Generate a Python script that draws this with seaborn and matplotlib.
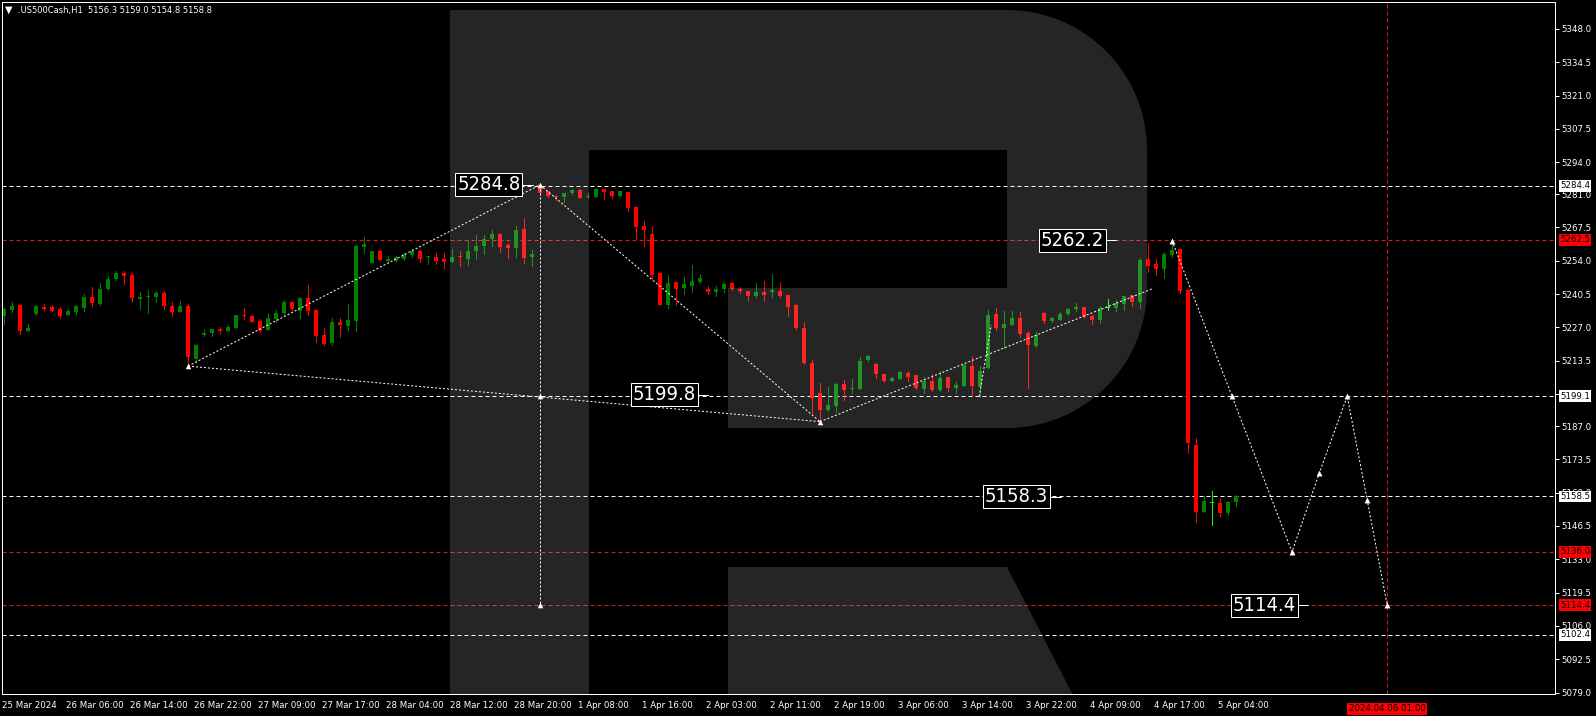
import numpy as np
import pandas as pd
import seaborn as sns
import matplotlib.pyplot as plt
import matplotlib.transforms as mtransforms
from matplotlib.patches import Polygon

# US500Cash H1 candles (bar index = position)
opens = [5231.7, 5234.0, 5236.0, 5225.6, 5232.4, 5235.1, 5235.2, 5234.4, 5232.0, 5233.2,
         5234.8, 5239.3, 5236.5, 5242.5, 5246.6, 5249.0, 5248.2, 5238.5, 5239.4, 5239.3,
         5240.9, 5235.6, 5233.2, 5235.6, 5214.2, 5223.9, 5224.7, 5226.2, 5225.5, 5226.7,
         5232.0, 5231.6, 5229.6, 5225.9, 5230.5, 5232.7, 5237.2, 5233.8, 5238.9, 5234.1,
         5224.0, 5220.6, 5229.2, 5227.5, 5229.6, 5259.6, 5253.1, 5258.1, 5254.1, 5254.1,
         5254.7, 5256.2, 5258.0, 5255.6, 5255.5, 5254.7, 5253.5, 5255.6, 5254.7, 5258.0,
         5260.0, 5262.7, 5264.9, 5260.4, 5259.3, 5266.9, 5255.5, 5284.6, 5282.2, 5280.4,
         5280.0, 5281.3, 5282.8, 5280.0, 5280.0, 5283.0, 5282.3, 5280.4, 5281.7, 5275.9,
         5268.1, 5264.9, 5249.2, 5236.2, 5245.4, 5243.0, 5243.8, 5245.4, 5242.6, 5241.5,
         5242.4, 5244.9, 5242.6, 5241.6, 5239.9, 5241.4, 5241.2, 5241.8, 5240.0, 5236.2,
         5226.8, 5212.4, 5200.4, 5193.7, 5195.3, 5204.1, 5202.2, 5202.0, 5213.8, 5212.2,
         5208.1, 5205.4, 5206.2, 5208.5, 5207.7, 5202.0, 5205.3, 5201.6, 5206.9, 5202.4,
         5203.4, 5211.5, 5203.0, 5210.7, 5232.4, 5226.9, 5227.8, 5230.8, 5224.8, 5219.4,
         5232.8, 5229.7, 5230.2, 5232.4, 5234.6, 5235.2, 5231.7, 5230.0, 5234.7, 5234.8,
         5236.5, 5240.1, 5237.3, 5254.7, 5252.8, 5250.6, 5256.3, 5258.7, 5242.1, 5179.3,
         5152.2, 5155.8, 5155.8, 5151.7, 5156.3]
highs = [5234.7, 5237.3, 5236.3, 5228.3, 5236.0, 5236.5, 5236.0, 5235.1, 5234.4, 5236.2,
         5240.5, 5243.3, 5245.0, 5247.8, 5249.8, 5249.8, 5249.0, 5241.3, 5242.1, 5241.7,
         5241.7, 5237.3, 5237.7, 5236.5, 5220.2, 5225.9, 5226.3, 5227.0, 5227.9, 5232.0,
         5234.8, 5232.4, 5230.4, 5232.8, 5234.0, 5238.1, 5237.7, 5239.2, 5244.2, 5234.4,
         5226.6, 5230.7, 5230.7, 5236.5, 5260.5, 5263.8, 5258.0, 5258.5, 5255.9, 5255.9,
         5257.3, 5258.9, 5258.3, 5255.9, 5257.2, 5257.2, 5258.8, 5258.0, 5262.0, 5264.5,
         5264.5, 5266.5, 5265.2, 5261.2, 5268.1, 5271.3, 5258.4, 5284.8, 5282.4, 5280.7,
         5281.5, 5283.0, 5283.1, 5281.3, 5283.4, 5283.1, 5282.4, 5282.4, 5281.9, 5276.2,
         5270.1, 5268.1, 5249.6, 5248.1, 5245.6, 5247.3, 5252.2, 5248.1, 5243.6, 5243.6,
         5245.3, 5245.3, 5243.5, 5241.8, 5244.9, 5245.8, 5248.5, 5245.4, 5240.2, 5236.4,
         5229.1, 5213.7, 5204.3, 5202.7, 5204.3, 5205.6, 5206.0, 5214.9, 5215.7, 5212.4,
         5208.3, 5206.8, 5209.2, 5209.2, 5207.9, 5207.0, 5208.1, 5209.3, 5207.0, 5204.9,
         5212.0, 5215.4, 5211.5, 5234.0, 5234.8, 5233.6, 5233.6, 5233.2, 5225.6, 5225.1,
         5233.2, 5231.3, 5233.2, 5234.7, 5236.9, 5235.4, 5231.9, 5235.6, 5238.5, 5238.1,
         5239.9, 5240.3, 5255.1, 5261.2, 5254.8, 5257.5, 5262.2, 5258.9, 5242.3, 5182.1,
         5158.8, 5160.7, 5157.4, 5156.5, 5159.0]
lows = [5228.2, 5233.2, 5224.4, 5225.6, 5232.0, 5234.0, 5233.5, 5230.8, 5231.9, 5232.4,
        5233.8, 5235.6, 5236.0, 5242.1, 5246.2, 5244.6, 5237.3, 5234.4, 5232.8, 5237.3,
        5234.4, 5231.6, 5233.2, 5211.3, 5213.0, 5223.5, 5223.5, 5224.7, 5225.5, 5226.7,
        5230.4, 5229.2, 5225.1, 5225.9, 5229.3, 5232.0, 5234.1, 5230.9, 5232.0, 5221.2,
        5220.0, 5219.8, 5223.2, 5225.9, 5225.7, 5257.3, 5253.1, 5254.0, 5253.6, 5253.8,
        5254.3, 5255.4, 5253.5, 5252.7, 5252.7, 5250.7, 5253.5, 5251.9, 5252.3, 5254.7,
        5256.8, 5260.0, 5257.6, 5255.1, 5255.5, 5253.1, 5251.9, 5280.6, 5280.0, 5278.6,
        5278.0, 5280.9, 5279.3, 5279.3, 5279.8, 5278.9, 5279.3, 5280.0, 5274.3, 5262.7,
        5260.1, 5246.5, 5235.9, 5235.0, 5236.2, 5240.7, 5241.4, 5245.0, 5240.4, 5239.9,
        5241.2, 5242.0, 5240.8, 5237.8, 5239.5, 5237.8, 5239.5, 5239.4, 5231.8, 5226.4,
        5212.0, 5192.2, 5188.8, 5193.0, 5192.9, 5197.6, 5200.6, 5201.9, 5213.3, 5206.4,
        5205.0, 5205.1, 5206.1, 5205.1, 5202.2, 5200.3, 5201.2, 5201.2, 5201.2, 5200.6,
        5203.2, 5199.6, 5198.9, 5210.7, 5225.9, 5218.8, 5227.8, 5223.2, 5202.5, 5219.0,
        5228.9, 5229.3, 5230.0, 5232.1, 5233.8, 5230.9, 5228.3, 5228.9, 5234.0, 5233.6,
        5234.0, 5235.6, 5234.8, 5249.6, 5248.3, 5247.0, 5255.6, 5240.8, 5176.2, 5148.2,
        5152.0, 5147.0, 5150.5, 5150.9, 5154.8]
closes = [5234.4, 5235.6, 5225.5, 5226.7, 5235.6, 5234.3, 5233.6, 5231.6, 5233.6, 5235.6,
          5239.3, 5236.9, 5242.5, 5246.6, 5249.0, 5247.8, 5238.9, 5239.3, 5239.7, 5240.9,
          5235.6, 5233.2, 5235.6, 5215.0, 5219.8, 5224.7, 5226.3, 5225.6, 5227.1, 5232.0,
          5231.6, 5229.2, 5225.5, 5230.8, 5232.7, 5237.2, 5234.3, 5238.9, 5233.8, 5223.6,
          5220.4, 5229.2, 5227.8, 5229.9, 5260.0, 5260.8, 5258.0, 5254.3, 5254.9, 5255.4,
          5256.9, 5258.1, 5254.7, 5255.8, 5253.9, 5253.5, 5255.5, 5255.4, 5258.0, 5260.0,
          5262.7, 5264.9, 5259.6, 5259.3, 5266.5, 5255.1, 5256.7, 5281.6, 5280.4, 5279.9,
          5281.3, 5282.7, 5279.6, 5280.1, 5283.1, 5282.0, 5280.4, 5282.3, 5275.5, 5267.8,
          5266.5, 5248.2, 5236.2, 5245.1, 5242.6, 5244.6, 5245.8, 5247.0, 5241.5, 5242.6,
          5244.6, 5242.4, 5241.6, 5239.9, 5241.4, 5240.3, 5242.2, 5239.7, 5235.4, 5226.9,
          5212.6, 5198.3, 5193.4, 5195.6, 5204.1, 5201.8, 5202.4, 5213.5, 5215.6, 5208.0,
          5205.4, 5206.5, 5208.9, 5207.0, 5202.6, 5205.3, 5201.6, 5206.5, 5202.4, 5203.7,
          5211.8, 5203.4, 5209.3, 5232.0, 5226.6, 5228.3, 5230.8, 5224.3, 5219.8, 5223.9,
          5229.6, 5230.9, 5232.4, 5234.4, 5235.1, 5231.3, 5230.0, 5234.8, 5234.7, 5236.7,
          5239.7, 5237.3, 5254.3, 5252.0, 5250.6, 5256.9, 5258.3, 5241.7, 5180.3, 5152.2,
          5156.6, 5155.8, 5151.7, 5156.3, 5158.8]
doji_bars = [138, 151]

time_tick_bars = list(range(0, 160, 8))
time_tick_labels = ["25 Mar 2024", "26 Mar 06:00", "26 Mar 14:00", "26 Mar 22:00", "27 Mar 09:00",
                    "27 Mar 17:00", "28 Mar 04:00", "28 Mar 12:00", "28 Mar 20:00", "1 Apr 08:00",
                    "1 Apr 16:00", "2 Apr 03:00", "2 Apr 11:00", "2 Apr 19:00", "3 Apr 06:00",
                    "3 Apr 14:00", "3 Apr 22:00", "4 Apr 09:00", "4 Apr 17:00", "5 Apr 04:00"]
price_ticks = [5348.0, 5334.5, 5321.0, 5307.5, 5294.0, 5281.0, 5267.5, 5254.0, 5240.5, 5227.0,
               5213.5, 5200.0, 5187.0, 5173.5, 5160.0, 5146.5, 5133.0, 5119.5, 5106.0, 5092.5, 5079.0]

white_levels = [5284.4, 5199.1, 5158.5, 5102.4]
red_levels = [5262.5, 5136.0, 5114.4]

# wave lines drawn on the chart: (bar, price) pairs
wave_lines = [
    ([23, 67], [5211.3, 5284.8]),
    ([23, 102], [5211.3, 5188.8]),
    ([67, 102], [5284.8, 5188.8]),
    ([67, 67], [5284.8, 5114.4]),
    ([102, 122.4], [5188.8, 5215.4]),
    ([121.9, 123.4], [5199.0, 5228.0]),
    ([122.8, 143.5], [5215.8, 5242.6]),
]
wave_marks_x = [23, 67, 67, 67, 102]
wave_marks_y = [5211.3, 5284.8, 5199.1, 5114.4, 5188.8]

# forecast path
fc_x = [146, 153.5, 161, 164.4, 167.9, 170.4, 172.9]
fc_y = [5262.2, 5199.1, 5136.0, 5167.8, 5199.1, 5157.0, 5114.4]
forecast_bar = 172.9
forecast_label = "2024.04.06 01:00"

# price labels on the chart: (right edge bar, price, text, pointer end bar)
chart_labels = [
    (64.75, 5284.8, "5284.8", 66.1),
    (86.7, 5199.8, "5199.8", 88.0),
    (137.7, 5262.3, "5262.2", 139.0),
    (130.7, 5158.4, "5158.3", 132.1),
    (161.7, 5114.3, "5114.4", 163.0),
]

header = ".US500Cash,H1  5156.3 5159.0 5154.8 5158.8"

W, H = 1596, 716
sns.set_style("dark", {"axes.facecolor": "black", "figure.facecolor": "black"})
plt.rcParams['font.family'] = ['DejaVu Sans']

fig = plt.figure(figsize=(W / 100, H / 100), dpi=100, facecolor="black")
ax = fig.add_axes([2 / W, 22 / H, 1553 / W, 692 / H])
ax.set_facecolor("black")
ax.set_xlim(-0.25, 193.875)
ax.set_ylim(5078.4, 5358.9)

px = 0.72  # one pixel in points

df = pd.DataFrame({"open": opens, "high": highs, "low": lows, "close": closes})
df["bar"] = np.arange(len(df))
df["up"] = df["close"] >= df["open"]
colors = np.where(df["up"], "#008000", "#ff0000").astype(object)
for b in doji_bars:
    colors[b] = "#00ff00"
body_lo = np.minimum(df["open"], df["close"])
body_h = np.maximum(np.abs(df["close"] - df["open"]), 0.4)

ax.vlines(df["bar"], df["low"], df["high"], colors=colors, lw=px, zorder=2, antialiased=False)
ax.bar(df["bar"], body_h, bottom=body_lo, width=0.62, color=colors, linewidth=0,
       zorder=2.1, antialiased=False)

# horizontal levels
for p in white_levels:
    ax.axhline(p, color="white", lw=px, ls=(0, (4, 3)), zorder=1.5)
for p in red_levels:
    ax.axhline(p, color="#e01818", lw=px, ls=(0, (4, 3)), zorder=1.5)
ax.axvline(forecast_bar, color="#e01818", lw=px, ls=(0, (4, 3)), zorder=1.5)

# wave lines
for xs, ys in wave_lines:
    ax.plot(xs, ys, color="white", lw=px, ls=(0, (2, 2)), zorder=3)
ax.scatter(wave_marks_x, wave_marks_y, s=16, color="white", marker="^", zorder=3.2, linewidths=0)

fc = pd.DataFrame({"bar": fc_x, "price": fc_y})
sns.lineplot(data=fc, x="bar", y="price", sort=False, estimator=None, ax=ax,
             color="white", lw=px, ls=(0, (2, 2)), zorder=3)
sns.scatterplot(data=fc, x="bar", y="price", ax=ax, s=18, color="white", marker="^",
                linewidth=0, zorder=3.2)

# logo overlay (pixel coordinates, y from the top)
to_px = mtransforms.Affine2D().scale(1 / 100, -1 / 100).translate(0, H / 100) + fig.dpi_scale_trans
t = np.linspace(-np.pi / 2, 0, 30)
arc1 = [(1007 + 140 * np.cos(a), 150 + 140 * np.sin(a)) for a in t]
t2 = np.linspace(0, np.pi / 2, 30)
arc2 = [(1007 + 140 * np.cos(a), 288 + 140 * np.sin(a)) for a in t2]
bowl = [(589, 10)] + arc1 + [(1147, 288)] + arc2 + [(728, 428), (728, 288), (1007, 288),
                                                    (1007, 150), (589, 150)]
stem = [(450, 10), (589, 10), (589, 730), (450, 730)]
leg = [(728, 567), (1007, 567), (1091, 730), (728, 730)]
for shape in (stem, bowl, leg):
    ax.add_patch(Polygon(shape, closed=True, transform=to_px, facecolor="white",
                         alpha=0.15, edgecolor="none", zorder=4))

# text labels on the chart
for xr, p, s, xe in chart_labels:
    ax.plot([xr, xe], [p, p], color="white", lw=px, zorder=5)
    ax.text(xr - 0.2, p, s, ha="right", va="center", color="white", fontsize=14.5,
            family="DejaVu Sans", fontstretch="condensed", zorder=6,
            bbox=dict(boxstyle="square,pad=0.1", fc="black", ec="white", lw=px))

# axes styling
for sp in ax.spines.values():
    sp.set_color("white")
    sp.set_linewidth(px)
    sp.set_visible(True)
ax.yaxis.tick_right()
ax.set_yticks(price_ticks)
ax.set_yticklabels([f"{v:.1f}" for v in price_ticks])
ax.set_xticks([b - 0.2 for b in time_tick_bars])
ax.set_xticklabels(time_tick_labels)
ax.tick_params(axis="y", colors="white", labelsize=6.2, length=3, width=px, pad=1.5, direction="out")
ax.tick_params(axis="x", colors="white", labelsize=6.2, length=3, width=px, pad=2, direction="out")
plt.setp(ax.get_xticklabels(), ha="left")
ax.set_xlabel("")
ax.set_ylabel("")
ax.grid(False)

# right-side level boxes
ytrans = ax.get_yaxis_transform()
for p in white_levels:
    ax.text(1 + 5 / 1553, p, f"{p:.1f}", transform=ytrans, ha="left", va="center", fontsize=6.2,
            color="black", clip_on=False, zorder=7,
            bbox=dict(boxstyle="square,pad=0.15", fc="white", ec="none"))
for p in red_levels:
    ax.text(1 + 5 / 1553, p, f"{p:.1f}", transform=ytrans, ha="left", va="center", fontsize=6.2,
            color="black", clip_on=False, zorder=7,
            bbox=dict(boxstyle="square,pad=0.15", fc="#ff0000", ec="none"))

# forecast time label
ax.text(forecast_bar, -0.015, forecast_label, transform=ax.get_xaxis_transform(), ha="center",
        va="top", fontsize=6.2, color="black", clip_on=False, zorder=7,
        bbox=dict(boxstyle="square,pad=0.2", fc="#ff0000", ec="none"))

fig.text(5 / W, 1 - 10 / H, "\u25bc", color="white", fontsize=7, va="center", ha="left")
fig.text(18 / W, 1 - 10 / H, header, color="white", fontsize=6.0, va="center", ha="left")

fig.savefig("out.png", dpi=100, facecolor="black")
